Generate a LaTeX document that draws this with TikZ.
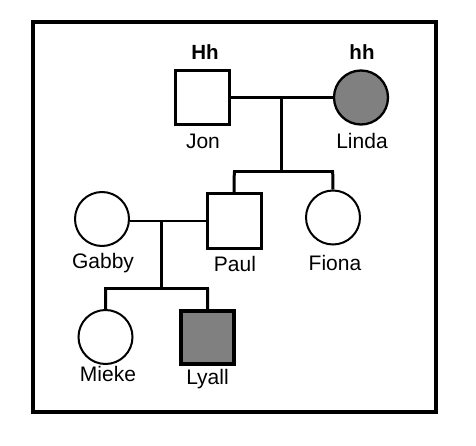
\documentclass[tikz,border=0pt]{standalone}
\usepackage{fontspec}
\setmainfont{Liberation Sans}
\begin{document}
\begin{tikzpicture}[x=1pt,y=-1pt,
  male/.style={draw,line width=3pt,minimum size=54pt,inner sep=0pt,rectangle},
  female/.style={draw,line width=2pt,circle,minimum size=54pt,inner sep=0pt},
  lbl/.style={anchor=base,inner sep=0pt,font=\fontsize{21}{24}\selectfont},
  geno/.style={anchor=base,inner sep=0pt,font=\fontsize{20.5}{24}\selectfont\bfseries},
  link/.style={line width=3pt},
  affected/.style={fill=black!50}]
\useasboundingbox (0,0) rectangle (476,446);
\draw[line width=4pt] (33,22) rectangle (436,412);
% generation I
\node[male] (jon) at (202,98) {};
\node[female,affected,line width=2.3pt] (linda) at (361,97.5) {};
\node[geno] (hhJ) at (205,60) {Hh};
\node[geno] (hhL) at (362,60) {hh};
\node[lbl] (ljon) at (203,148.5) {Jon};
\node[lbl] (llinda) at (362,148.5) {Linda};
% generation II
\node[male] (paul) at (234,221) {};
\node[female] (fiona) at (333,217.5) {};
\node[female] (gabby) at (102,219) {};
\node[lbl] (lgabby) at (103,269) {Gabby};
\node[lbl] (lpaul) at (235,271.5) {Paul};
\node[lbl] (lfiona) at (335,270.5) {Fiona};
% generation III
\node[female] (mieke) at (105.5,337) {};
\node[male,affected,line width=4pt,minimum size=53pt] (lyall) at (207.7,337.5) {};
\node[lbl] (lmieke) at (108,381.5) {Mieke};
\node[lbl] (llyall) at (207.5,384) {Lyall};
% connectors generation I
\coordinate (m1) at (281.7,98);
\coordinate (s1) at (281.7,171.5);
\coordinate (s1l) at (234.3,171.5);
\coordinate (s1r) at (332.7,171.5);
\draw[link] (jon.east |- m1) -- (linda.west |- m1);
\draw[link] (m1) -- (s1);
\draw[link,line cap=rect] (s1l) -- (s1r);
\draw[link] (s1l) -- (paul.north);
\draw[link] (s1r) -- (fiona.north);
% connectors generation II
\coordinate (m2) at (161,220.7);
\coordinate (s2) at (161,288.3);
\coordinate (s2l) at (105.7,288.3);
\coordinate (s2r) at (207.5,288.3);
\draw[line width=1.7pt] (gabby.east |- m2) -- (paul.west |- m2);
\draw[link] (m2) -- (s2);
\draw[link,line cap=rect] (s2l) -- (s2r);
\draw[link] (s2l) -- (mieke.north);
\draw[link] (s2r) -- (lyall.north);
\end{tikzpicture}
\end{document}
